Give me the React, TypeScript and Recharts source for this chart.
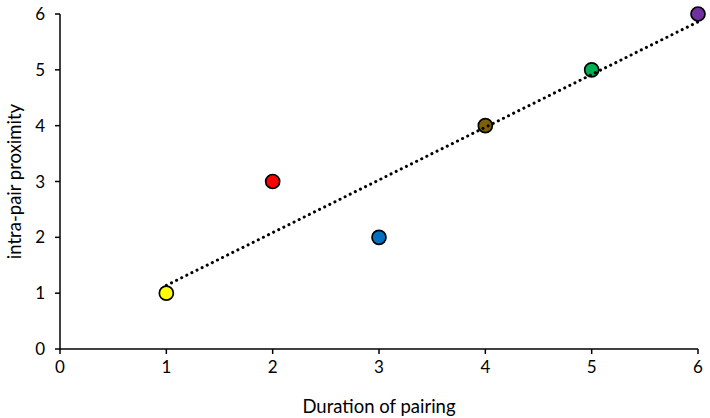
import React from "react";
import { ScatterChart, Scatter, XAxis, YAxis, Cell } from "recharts";

const durations = [1, 2, 3, 4, 5, 6];
const proximity = [1, 3, 2, 4, 5, 6];
const pointColors = ["#FFFF00", "#FF0000", "#0070C0", "#7F6000", "#00B050", "#7030A0"];
const trendX = [1, 6];
const trendY = [1.14, 5.86];
const ticks = [0, 1, 2, 3, 4, 5, 6];

const points = durations.map((x, i) => ({ x, y: proximity[i] }));
const trend = trendX.map((x, i) => ({ x, y: trendY[i] }));

const font = "Lato, 'Open Sans', sans-serif";

export default function App() {
  return (
    <div style={{ position: "absolute", left: 0, top: 0, background: "#fff" }}>
      <ScatterChart width={710} height={418} margin={{ top: 14, right: 12, bottom: 0, left: 0 }}>
        <XAxis
          type="number"
          dataKey="x"
          domain={[0, 6]}
          ticks={ticks}
          height={69}
          stroke="#000"
          strokeWidth={1.5}
          tickSize={5}
          tick={{ fill: "#000", fontSize: 17, fontFamily: font }}
          tickMargin={7}
          label={{ value: "Duration of pairing", position: "insideBottom", offset: 5, fill: "#000", fontSize: 18.5, fontFamily: font }}
        />
        <YAxis
          type="number"
          dataKey="y"
          domain={[0, 6]}
          ticks={ticks}
          width={60}
          stroke="#000"
          strokeWidth={1.5}
          tickSize={5}
          tick={{ fill: "#000", fontSize: 17, fontFamily: font }}
          tickMargin={10}
          label={{ value: "intra-pair proximity", angle: -90, position: "insideLeft", offset: 14, style: { textAnchor: "middle" }, fill: "#000", fontSize: 18.5, fontFamily: font }}
        />
        <Scatter data={points} isAnimationActive={false} shape={(p: any) => (
          <circle cx={p.cx} cy={p.cy} r={7} fill={p.fill} stroke="#000" strokeWidth={1.7} />
        )}>
          {points.map((_, i) => (
            <Cell key={i} fill={pointColors[i]} />
          ))}
        </Scatter>
        <Scatter
          data={trend}
          isAnimationActive={false}
          line={{ stroke: "#000", strokeWidth: 3, strokeDasharray: "0.1 5.6", strokeLinecap: "round" }}
          shape={() => <g />}
        />
      </ScatterChart>
    </div>
  );
}
